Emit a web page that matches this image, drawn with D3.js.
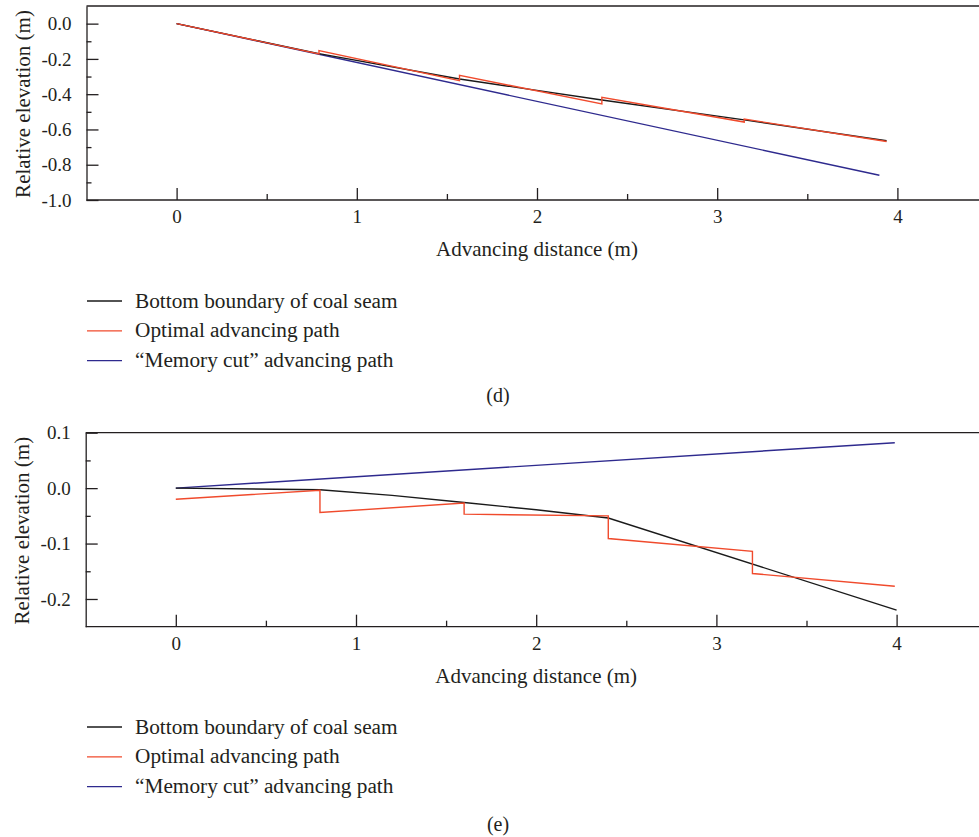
<!DOCTYPE html>
<html>
<head>
<meta charset="utf-8">
<script src="https://cdn.jsdelivr.net/npm/d3@7"></script>
<style>
  body { margin: 0; background: #fff; }
  svg { display: block; }
  text { font-family: "Liberation Serif", "Times New Roman", serif; fill: #231f20; }
</style>
</head>
<body>
<svg id="chart" width="979" height="837"></svg>
<script>
// ---------------- DATA ----------------
const seriesNames = ["Bottom boundary of coal seam", "Optimal advancing path", "\u201CMemory cut\u201D advancing path"];
const seriesColors = ["#1a1a1a", "#f04a2c", "#2e2a8e"];
const xTicks = [0, 1, 2, 3, 4];
const panelLabels = ["(d)", "(e)"];

// Panel (d)
const dYTicks = [-1.0, -0.8, -0.6, -0.4, -0.2, 0.0];
const dBoundaryX = [0, 0.79, 1.57, 2.36, 3.15, 3.94];
const dBoundaryY = [0, -0.170, -0.314, -0.433, -0.546, -0.664];
const dOptimalX = [0, 0.79, 0.79, 1.57, 1.57, 2.36, 2.36, 3.15, 3.15, 3.94];
const dOptimalY = [0, -0.172, -0.153, -0.323, -0.293, -0.455, -0.418, -0.558, -0.541, -0.668];
const dMemoryX = [0, 3.90];
const dMemoryY = [0, -0.860];

// Panel (e)
const eYTicks = [-0.2, -0.1, 0.0, 0.1];
const eBoundaryX = [0, 0.8, 1.2, 1.6, 2.0, 2.4, 4.0];
const eBoundaryY = [0, -0.003, -0.013, -0.026, -0.039, -0.054, -0.220];
const eOptimalX = [0, 0.8, 0.8, 1.6, 1.6, 2.4, 2.4, 3.2, 3.2, 3.99];
const eOptimalY = [-0.020, -0.004, -0.044, -0.027, -0.047, -0.050, -0.091, -0.114, -0.154, -0.177];
const eMemoryX = [0, 3.99];
const eMemoryY = [0, 0.082];

// ---------------- DRAW ----------------
const svg = d3.select("#chart");
const fmt = v => d3.format(".1f")(v).replace("\u2212", "-");

function zip(xs, ys) { return xs.map((x, i) => [x, ys[i]]); }

function panel(cfg) {
  const g = svg.append("g");
  const x = d3.scaleLinear().domain([-0.5, 4.5]).range([cfg.left, cfg.left + 901]);
  const y = d3.scaleLinear().domain(cfg.yDomain).range([cfg.bottom, cfg.top]);

  // frame top line
  g.append("line").attr("x1", cfg.left).attr("x2", 979).attr("y1", cfg.top).attr("y2", cfg.top)
    .attr("stroke", "#231f20").attr("stroke-width", 1.3);

  const xa = g.append("g").attr("transform", `translate(0,${cfg.bottom})`)
    .call(d3.axisBottom(x).tickValues(xTicks).tickFormat(d3.format("d")).tickSizeInner(-12).tickSizeOuter(0).tickPadding(10));
  const xm = g.append("g").attr("transform", `translate(0,${cfg.bottom})`)
    .call(d3.axisBottom(x).tickValues([0.5, 1.5, 2.5, 3.5]).tickFormat("").tickSizeInner(-6).tickSizeOuter(0));
  const ya = g.append("g").attr("transform", `translate(${cfg.left},0)`)
    .call(d3.axisLeft(y).tickValues(cfg.yTicks).tickFormat(fmt).tickSizeInner(-12).tickSizeOuter(0).tickPadding(15));
  const ym = g.append("g").attr("transform", `translate(${cfg.left},0)`)
    .call(d3.axisLeft(y).tickValues(cfg.yMinor).tickFormat("").tickSizeInner(-5).tickSizeOuter(0));

  [xa, xm, ya, ym].forEach(a => {
    a.select(".domain").attr("stroke", "#231f20").attr("stroke-width", 1.3);
    a.selectAll(".tick line").attr("stroke", "#231f20").attr("stroke-width", 1.3);
    a.selectAll("text").attr("font-family", "Liberation Serif, serif").attr("font-size", 19).attr("fill", "#231f20");
  });
  xa.select(".domain").attr("d", `M${cfg.left},0H979`);
  xm.select(".domain").remove();
  ym.select(".domain").remove();

  g.append("text").attr("x", (cfg.left + cfg.left + 901) / 2).attr("y", cfg.bottom + 56)
    .attr("text-anchor", "middle").attr("font-size", 21).text("Advancing distance (m)");
  g.append("text").attr("transform", `translate(${cfg.left - 57},${(cfg.top + cfg.bottom) / 2 + 1}) rotate(-90)`)
    .attr("text-anchor", "middle").attr("font-size", 21).text("Relative elevation (m)");

  const line = d3.line().x(d => x(d[0])).y(d => y(d[1]));
  const data = [cfg.memory, cfg.boundary, cfg.optimal];
  const cols = [seriesColors[2], seriesColors[0], seriesColors[1]];
  data.forEach((d, i) => {
    g.append("path").datum(d).attr("d", line).attr("fill", "none")
      .attr("stroke", cols[i]).attr("stroke-width", 1.4).attr("stroke-linejoin", "miter");
  });

  seriesNames.forEach((name, i) => {
    const ly = cfg.legendTop + i * 29.8;
    g.append("line").attr("x1", 87).attr("x2", 122).attr("y1", ly).attr("y2", ly)
      .attr("stroke", seriesColors[i]).attr("stroke-width", 1.3);
    g.append("text").attr("x", 135).attr("y", ly + 6.5).attr("font-size", 21.3).text(name);
  });

  g.append("text").attr("x", 498).attr("y", cfg.labelY).attr("text-anchor", "middle")
    .attr("font-size", 20).text(cfg.label);
}

panel({
  left: 86.5, top: 6, bottom: 200, yDomain: [-1.0, 0.1],
  yTicks: dYTicks, yMinor: [-0.9, -0.7, -0.5, -0.3, -0.1],
  boundary: zip(dBoundaryX, dBoundaryY), optimal: zip(dOptimalX, dOptimalY), memory: zip(dMemoryX, dMemoryY),
  legendTop: 301, label: panelLabels[0], labelY: 402
});
panel({
  left: 85.7, top: 432.7, bottom: 626.7, yDomain: [-0.25, 0.1],
  yTicks: eYTicks, yMinor: [-0.15, -0.05, 0.05],
  boundary: zip(eBoundaryX, eBoundaryY), optimal: zip(eOptimalX, eOptimalY), memory: zip(eMemoryX, eMemoryY),
  legendTop: 727, label: panelLabels[1], labelY: 831
});
</script>
</body>
</html>
